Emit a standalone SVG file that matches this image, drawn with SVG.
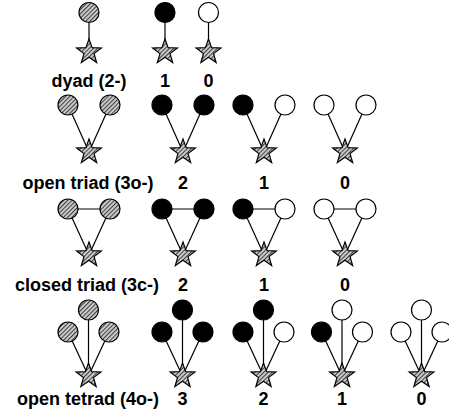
<svg xmlns="http://www.w3.org/2000/svg" width="449" height="417" viewBox="0 0 449 417">
<defs>
<pattern id="hatch" width="3" height="3" patternUnits="userSpaceOnUse" patternTransform="rotate(45)">
<rect width="3" height="3" fill="#d4d4d4"/>
<line x1="0.6" y1="0" x2="0.6" y2="3" stroke="#3a3a3a" stroke-width="1.1"/>
</pattern>
<path id="star" d="M0,-13 L3.115,-4.288 L12.364,-4.017 L5.041,1.638 L7.641,10.517 L0,5.3 L-7.641,10.517 L-5.041,1.638 L-12.364,-4.017 L-3.115,-4.288 Z"/>
</defs>
<style>
.g{fill:url(#hatch);stroke:#000;stroke-width:1.2}
.b{fill:#000;stroke:#000;stroke-width:1.2}
.w{fill:#fff;stroke:#000;stroke-width:1.2}
.s{fill:url(#hatch);stroke:#000;stroke-width:1.2;stroke-linejoin:miter}
.e line{stroke:#000;stroke-width:1.2}
text{font-family:"Liberation Sans",Arial,sans-serif;font-weight:bold;font-size:18px;text-anchor:middle;fill:#000}
</style>
<rect width="449" height="417" fill="#fff"/>
<g id="connectors" class="e">
<line x1="89" y1="12.5" x2="89" y2="52"/>
<line x1="165" y1="12.5" x2="165" y2="52"/>
<line x1="208.5" y1="12.5" x2="208.5" y2="52"/>
<line x1="68" y1="105" x2="89" y2="152"/><line x1="110" y1="105" x2="89" y2="152"/>
<line x1="162" y1="105" x2="183" y2="152"/><line x1="204" y1="105" x2="183" y2="152"/>
<line x1="243" y1="105" x2="264" y2="152"/><line x1="285" y1="105" x2="264" y2="152"/>
<line x1="324" y1="105" x2="345" y2="152"/><line x1="366" y1="105" x2="345" y2="152"/>
<line x1="68" y1="209" x2="89" y2="255"/><line x1="110" y1="209" x2="89" y2="255"/><line x1="68" y1="209" x2="110" y2="209"/>
<line x1="162" y1="209" x2="183" y2="255"/><line x1="204" y1="209" x2="183" y2="255"/><line x1="162" y1="209" x2="204" y2="209"/>
<line x1="243" y1="209" x2="264" y2="255"/><line x1="285" y1="209" x2="264" y2="255"/><line x1="243" y1="209" x2="285" y2="209"/>
<line x1="324" y1="209" x2="345" y2="255"/><line x1="366" y1="209" x2="345" y2="255"/><line x1="324" y1="209" x2="366" y2="209"/>
<line x1="68" y1="332" x2="88.5" y2="376"/><line x1="88.5" y1="310" x2="88.5" y2="376"/><line x1="109" y1="332" x2="88.5" y2="376"/>
<line x1="162" y1="332" x2="182.5" y2="376"/><line x1="182.5" y1="310" x2="182.5" y2="376"/><line x1="203" y1="332" x2="182.5" y2="376"/>
<line x1="243" y1="332" x2="263.5" y2="376"/><line x1="263.5" y1="310" x2="263.5" y2="376"/><line x1="284" y1="332" x2="263.5" y2="376"/>
<line x1="321.5" y1="332" x2="342" y2="376"/><line x1="342" y1="310" x2="342" y2="376"/><line x1="362.5" y1="332" x2="342" y2="376"/>
<line x1="401" y1="332" x2="421.5" y2="376"/><line x1="421.5" y1="310" x2="421.5" y2="376"/><line x1="442" y1="332" x2="421.5" y2="376"/>
</g>
<g id="dyad">
<circle class="g" cx="89" cy="12.5" r="10"/><use href="#star" class="s" x="89" y="52"/>
<text x="89" y="86.5">dyad (2-)</text>
</g>
<g id="dyad-1">
<circle class="b" cx="165" cy="12.5" r="10"/><use href="#star" class="s" x="165" y="52"/>
<text x="165" y="86.5">1</text>
</g>
<g id="dyad-0">
<circle class="w" cx="208.5" cy="12.5" r="10"/><use href="#star" class="s" x="208.5" y="52"/>
<text x="208.5" y="86.5">0</text>
</g>
<g id="open-triad">
<circle class="g" cx="68" cy="105" r="10"/><circle class="g" cx="110" cy="105" r="10"/><use href="#star" class="s" x="89" y="152"/>
<text x="88" y="189">open triad (3o-)</text>
</g>
<g id="open-triad-2">
<circle class="b" cx="162" cy="105" r="10"/><circle class="b" cx="204" cy="105" r="10"/><use href="#star" class="s" x="183" y="152"/>
<text x="183" y="189">2</text>
</g>
<g id="open-triad-1">
<circle class="b" cx="243" cy="105" r="10"/><circle class="w" cx="285" cy="105" r="10"/><use href="#star" class="s" x="264" y="152"/>
<text x="264" y="189">1</text>
</g>
<g id="open-triad-0">
<circle class="w" cx="324" cy="105" r="10"/><circle class="w" cx="366" cy="105" r="10"/><use href="#star" class="s" x="345" y="152"/>
<text x="345" y="189">0</text>
</g>
<g id="closed-triad">
<circle class="g" cx="68" cy="209" r="10"/><circle class="g" cx="110" cy="209" r="10"/><use href="#star" class="s" x="89" y="255"/>
<text x="87" y="291">closed triad (3c-)</text>
</g>
<g id="closed-triad-2">
<circle class="b" cx="162" cy="209" r="10"/><circle class="b" cx="204" cy="209" r="10"/><use href="#star" class="s" x="183" y="255"/>
<text x="183" y="291">2</text>
</g>
<g id="closed-triad-1">
<circle class="b" cx="243" cy="209" r="10"/><circle class="w" cx="285" cy="209" r="10"/><use href="#star" class="s" x="264" y="255"/>
<text x="264" y="291">1</text>
</g>
<g id="closed-triad-0">
<circle class="w" cx="324" cy="209" r="10"/><circle class="w" cx="366" cy="209" r="10"/><use href="#star" class="s" x="345" y="255"/>
<text x="345" y="291">0</text>
</g>
<g id="open-tetrad">
<circle class="g" cx="88.5" cy="310" r="10"/><circle class="g" cx="68" cy="332" r="10"/><circle class="g" cx="109" cy="332" r="10"/><use href="#star" class="s" x="88.5" y="376"/>
<text x="88" y="405">open tetrad (4o-)</text>
</g>
<g id="open-tetrad-3">
<circle class="b" cx="182.5" cy="310" r="10"/><circle class="b" cx="162" cy="332" r="10"/><circle class="b" cx="203" cy="332" r="10"/><use href="#star" class="s" x="182.5" y="376"/>
<text x="182.5" y="405">3</text>
</g>
<g id="open-tetrad-2">
<circle class="b" cx="263.5" cy="310" r="10"/><circle class="b" cx="243" cy="332" r="10"/><circle class="w" cx="284" cy="332" r="10"/><use href="#star" class="s" x="263.5" y="376"/>
<text x="263.5" y="405">2</text>
</g>
<g id="open-tetrad-1">
<circle class="w" cx="342" cy="310" r="10"/><circle class="b" cx="321.5" cy="332" r="10"/><circle class="w" cx="362.5" cy="332" r="10"/><use href="#star" class="s" x="342" y="376"/>
<text x="342" y="405">1</text>
</g>
<g id="open-tetrad-0">
<circle class="w" cx="421.5" cy="310" r="10"/><circle class="w" cx="401" cy="332" r="10"/><circle class="w" cx="442" cy="332" r="10"/><use href="#star" class="s" x="421.5" y="376"/>
<text x="421.5" y="405">0</text>
</g>
</svg>
